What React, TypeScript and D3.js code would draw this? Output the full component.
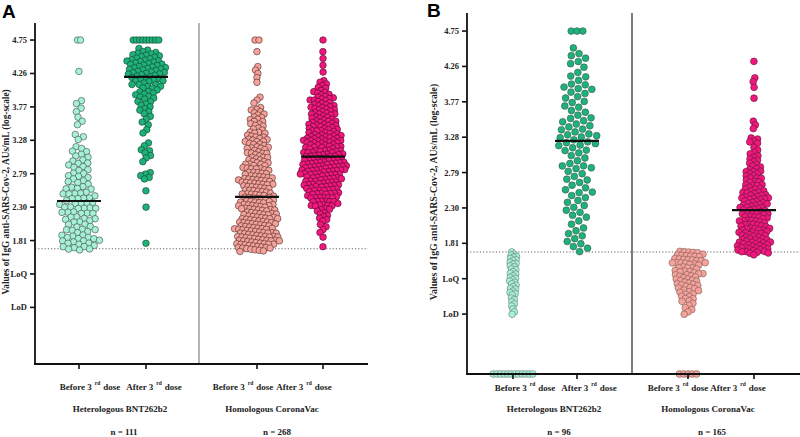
import React from "react";
import * as d3 from "d3";

// ---------- DATA (log10 AU/mL; 0 = below LoD) ----------
const yTickValues = [4.75, 4.26, 3.77, 3.28, 2.79, 2.3, 1.81, 1.32, 0.83];
const yTickLabels = ["4.75", "4.26", "3.77", "3.28", "2.79", "2.30", "1.81", "LoQ", "LoD"];
const categories = ["Before 3", "After 3"];
const groupsNames = ["Heterologous BNT262b2", "Homologous CoronaVac"];
const nLabelsA = ["n = 111", "n = 268"];
const nLabelsB = ["n = 96", "n = 165"];
const cutoff = 1.69;
const capValue = 4.75;

const A_BNT_before = [4.75, 4.75, 4.29, 3.86, 3.82, 3.75, 3.7, 3.62, 3.56, 3.51, 3.36, 3.33, 3.3,
  3.18, 3.15, 3.12, 3.1, 3.07, 3.05, 3.03, 3.0, 2.98, 2.96,
  2.94, 2.92, 2.89, 2.87, 2.85, 2.83, 2.81,
  2.79, 2.77, 2.75, 2.73, 2.71, 2.69, 2.67, 2.65, 2.63, 2.61, 2.59, 2.57, 2.55, 2.54, 2.52, 2.51, 2.5,
  2.49, 2.48, 2.46, 2.45, 2.43, 2.42, 2.41, 2.4,
  2.38, 2.37, 2.35, 2.34, 2.33, 2.31, 2.3, 2.29, 2.28, 2.27, 2.26, 2.25, 2.24, 2.23, 2.22, 2.21, 2.19, 2.18, 2.16, 2.15,
  2.13, 2.12, 2.1, 2.08, 2.07, 2.05, 2.04, 2.02, 2.01, 1.99, 1.98, 1.96, 1.95, 1.93, 1.92, 1.9, 1.89, 1.87, 1.86, 1.84,
  1.83, 1.82, 1.8, 1.79, 1.78, 1.77, 1.76, 1.75, 1.74, 1.73, 1.72, 1.72, 1.71, 1.71, 1.77, 1.81];

const A_BNT_after = [4.75, 4.75, 4.75, 4.75, 4.75, 4.75, 4.75, 4.75, 4.75,
  4.62, 4.6, 4.58, 4.56,
  4.54, 4.53, 4.52, 4.51, 4.5, 4.49, 4.48, 4.47, 4.46, 4.46, 4.45, 4.44, 4.43, 4.42, 4.42, 4.41, 4.4, 4.4,
  4.39, 4.38, 4.38, 4.37, 4.36, 4.35, 4.34, 4.34, 4.33, 4.32, 4.31, 4.3, 4.3, 4.29, 4.28, 4.27, 4.26, 4.26, 4.25, 4.24,
  4.23, 4.22, 4.22, 4.21,
  4.2, 4.19, 4.18, 4.17, 4.16, 4.15, 4.14, 4.13, 4.12, 4.11,
  4.1, 4.08, 4.07, 4.05, 4.04, 4.02, 4.01, 3.99, 3.98, 3.96, 3.95, 3.93, 3.92, 3.9,
  3.88, 3.86, 3.84, 3.81, 3.79, 3.77, 3.75, 3.73, 3.71,
  3.67, 3.63, 3.59, 3.55, 3.5, 3.44, 3.39,
  3.24, 3.2, 3.14, 3.12, 3.1, 3.06, 3.02, 2.97, 2.8, 2.78, 2.76, 2.74, 2.72, 2.54, 2.3, 1.77];

const A_CV_before = [4.75, 4.75, 4.58, 4.36, 4.31, 4.26, 4.2, 4.13, 3.91, 3.87, 3.83,
  3.75, 3.73, 3.72, 3.7, 3.68, 3.66, 3.65, 3.63, 3.61, 3.6, 3.58, 3.56, 3.55, 3.53, 3.51, 3.5, 3.48, 3.46, 3.45, 3.43,
  3.41, 3.4, 3.38, 3.37, 3.35, 3.34, 3.33, 3.32, 3.31, 3.3,
  3.29, 3.28, 3.27, 3.26, 3.25, 3.24, 3.23, 3.21, 3.2, 3.19, 3.18, 3.17, 3.16, 3.15, 3.14, 3.12, 3.11, 3.1, 3.09, 3.08,
  3.07, 3.06, 3.05, 3.04, 3.03, 3.02, 3.01,
  3.0, 2.99, 2.98, 2.97, 2.96, 2.95, 2.94, 2.93, 2.92, 2.91, 2.9, 2.89, 2.88, 2.87, 2.86, 2.85, 2.84, 2.83, 2.82, 2.81,
  2.8, 2.79, 2.78, 2.77, 2.76, 2.75, 2.74, 2.73, 2.73, 2.72, 2.72, 2.71, 2.71,
  2.7, 2.7, 2.69, 2.69, 2.68, 2.67, 2.67, 2.66, 2.65, 2.65, 2.64, 2.63, 2.62, 2.62, 2.61, 2.6, 2.59, 2.59, 2.58, 2.57,
  2.56, 2.56, 2.55, 2.54, 2.53, 2.52, 2.51, 2.5, 2.49, 2.48, 2.47, 2.47, 2.46,
  2.45, 2.44, 2.44, 2.43, 2.42, 2.41, 2.41, 2.4, 2.39, 2.38, 2.38, 2.37, 2.36, 2.35, 2.35, 2.34, 2.33, 2.32, 2.32, 2.31,
  2.3, 2.29, 2.29, 2.28, 2.27, 2.26, 2.26, 2.25, 2.24, 2.23, 2.23, 2.22, 2.21, 2.2, 2.2, 2.19, 2.18, 2.17, 2.17, 2.16,
  2.15, 2.14, 2.14, 2.13, 2.12, 2.12, 2.11, 2.11, 2.1, 2.1, 2.43, 2.37, 2.31, 2.25, 2.19, 2.13,
  2.09, 2.09, 2.08, 2.08, 2.07, 2.06, 2.06, 2.05, 2.04, 2.04, 2.03, 2.02, 2.02, 2.01, 2.0, 2.0, 1.99, 1.98, 1.98, 1.97,
  1.96, 1.96, 1.95, 1.94, 1.94, 1.93, 1.92, 1.92, 1.91, 1.9, 1.9, 1.89, 1.89, 1.88, 1.88, 1.87, 1.87, 1.86, 1.86, 1.85,
  1.85, 1.97, 1.93, 2.05,
  1.84, 1.84, 1.83, 1.83, 1.82, 1.82, 1.81, 1.81, 1.8, 1.8, 1.79, 1.79, 1.78, 1.78, 1.77, 1.77, 1.76, 1.76, 1.75, 1.75,
  1.74, 1.74, 1.73, 1.73, 1.72, 1.72, 1.71, 1.71, 1.7, 1.7, 1.71, 1.73, 1.75, 1.77];

const A_CV_after = [4.75, 4.58, 4.48, 4.38, 4.28,
  4.15, 4.13, 4.1, 4.08, 4.05, 4.03, 4.01,
  3.99, 3.98, 3.96, 3.95, 3.93, 3.92, 3.9, 3.89, 3.87, 3.86, 3.85, 3.84, 3.83, 3.82, 3.81, 3.8,
  3.79, 3.78, 3.77, 3.76, 3.75, 3.74, 3.73, 3.72, 3.71, 3.7, 3.69, 3.68, 3.67, 3.66, 3.65, 3.64, 3.63, 3.62, 3.61, 3.6,
  3.59, 3.58, 3.57, 3.56, 3.55, 3.54, 3.53, 3.52, 3.51, 3.5, 3.78, 3.72, 3.66, 3.6, 3.54,
  3.49, 3.48, 3.48, 3.47, 3.46, 3.45, 3.45, 3.44, 3.43, 3.42, 3.42, 3.41, 3.4, 3.39, 3.39, 3.38, 3.37, 3.36, 3.36, 3.35,
  3.34, 3.33, 3.33, 3.32, 3.31, 3.31, 3.3, 3.3,
  3.29, 3.29, 3.28, 3.28, 3.27, 3.27, 3.26, 3.25, 3.25, 3.24, 3.23, 3.23, 3.22, 3.21, 3.21, 3.2, 3.2, 3.19, 3.18, 3.18,
  3.17, 3.16, 3.16, 3.15, 3.14, 3.14, 3.13, 3.12, 3.12, 3.11, 3.1, 3.1, 3.09, 3.08, 3.08, 3.07, 3.07, 3.06, 3.06, 3.05,
  3.05, 3.04, 3.04,
  3.03, 3.03, 3.02, 3.02, 3.01, 3.01, 3.0, 3.0, 2.99, 2.99, 2.98, 2.98, 2.97, 2.97, 2.96, 2.96, 2.95, 2.95, 2.94, 2.94,
  2.93, 2.93, 2.92, 2.92, 2.91, 2.91, 2.9, 2.9, 2.89, 2.89, 2.88, 2.88, 2.87, 2.87, 2.86, 2.86, 2.85, 2.85, 2.84, 2.84,
  2.83, 2.83, 2.82, 2.82, 2.81, 2.81, 2.8, 2.8, 2.79, 2.79,
  2.78, 2.78, 2.77, 2.76, 2.76, 2.75, 2.74, 2.74, 2.73, 2.72, 2.72, 2.71, 2.7, 2.7, 2.69, 2.68, 2.68, 2.67, 2.66, 2.66,
  2.65, 2.64, 2.64, 2.63, 2.62, 2.62, 2.61, 2.6, 2.6, 2.59, 2.58, 2.58, 2.57, 2.57, 2.56, 2.56, 2.55, 2.55, 2.54, 2.54,
  2.53, 2.52, 2.51, 2.5, 2.49, 2.48, 2.47, 2.46, 2.45, 2.44, 2.43, 2.42, 2.41, 2.4, 2.39, 2.38, 2.37, 2.36, 2.35, 2.34,
  2.33, 2.32, 2.31, 2.3, 2.5, 2.44, 2.38, 2.32,
  2.28, 2.26, 2.24, 2.22, 2.2, 2.18, 2.16, 2.14, 2.12, 2.1,
  2.05, 2.01, 1.97, 1.93, 1.86, 1.72];

const B_BNT_before = [1.68, 1.66, 1.65, 1.63, 1.62, 1.6, 1.58, 1.57, 1.55, 1.53, 1.52, 1.5, 1.48, 1.46, 1.44, 1.42,
  1.4, 1.38, 1.36, 1.34, 1.32, 1.3, 1.29, 1.27, 1.25, 1.23, 1.21, 1.19, 1.17, 1.15, 1.13, 1.11, 1.09, 1.06, 1.03,
  1.0, 0.97, 0.94, 0.9, 0.86, 0.83,
  0, 0, 0, 0, 0, 0, 0, 0, 0, 0, 0, 0];

const B_BNT_after = [4.75, 4.75, 4.75, 4.5, 4.43, 4.42, 4.38, 4.33, 4.3, 4.25, 4.17, 4.12, 4.1, 4.06, 4.03, 4.01,
  3.98, 3.95, 3.93, 3.9, 3.88, 3.86, 3.8, 3.77, 3.75, 3.73, 3.7, 3.66, 3.62, 3.6, 3.55, 3.52, 3.5, 3.48, 3.46, 3.44,
  3.4, 3.37, 3.35, 3.33, 3.31, 3.3, 3.28, 3.27, 3.26, 3.25, 3.24, 3.23,
  3.22, 3.2, 3.17, 3.14, 3.11, 3.08, 3.06, 3.03, 3.0, 2.96, 2.93, 2.9, 2.88, 2.86, 2.84, 2.8, 2.78, 2.75, 2.72, 2.68,
  2.64, 2.62, 2.6, 2.56, 2.53, 2.5, 2.47, 2.44, 2.4, 2.37, 2.33, 2.3, 2.27, 2.25, 2.22, 2.18, 2.12, 2.07, 2.02, 1.98,
  1.94, 1.9, 1.87, 1.83, 1.8, 1.78, 1.75, 1.72];

const B_CV_before = [1.68, 1.67, 1.67, 1.66, 1.66, 1.65, 1.65, 1.64, 1.63, 1.63, 1.62, 1.61, 1.61, 1.6, 1.59, 1.59,
  1.58, 1.57, 1.57, 1.56, 1.55, 1.54, 1.54, 1.53, 1.52, 1.51, 1.5, 1.49, 1.48, 1.47, 1.46, 1.45,
  1.44, 1.43, 1.42, 1.41, 1.4, 1.39, 1.38, 1.37, 1.36, 1.35, 1.34, 1.33, 1.32, 1.31, 1.3, 1.29, 1.28, 1.27, 1.26, 1.25,
  1.24, 1.23, 1.22, 1.21, 1.2, 1.38, 1.3,
  1.19, 1.17, 1.16, 1.14, 1.13, 1.11, 1.1, 1.08, 1.07, 1.05, 1.04, 1.02, 1.01,
  0.98, 0.95, 0.92, 0.89, 0.86, 0.83,
  0, 0, 0, 0, 0];

const B_CV_after = [4.33, 4.1, 4.05, 3.97, 3.82, 3.5, 3.45, 3.4,
  3.26, 3.25, 3.23, 3.22, 3.2, 3.14, 3.1, 3.07, 3.05, 3.02, 3.0,
  2.98, 2.96, 2.94, 2.92, 2.9, 2.88, 2.86, 2.84, 2.83, 2.81, 2.8,
  2.79, 2.78, 2.77, 2.75, 2.74, 2.73, 2.71, 2.7, 2.69, 2.67, 2.66, 2.65, 2.63, 2.62, 2.61, 2.6, 2.58, 2.57, 2.56, 2.55,
  2.54, 2.53, 2.52, 2.51,
  2.5, 2.49, 2.48, 2.48, 2.47, 2.46, 2.45, 2.44, 2.44, 2.43, 2.42, 2.41, 2.4, 2.4, 2.39, 2.38, 2.37, 2.36, 2.36, 2.35,
  2.34, 2.33, 2.32, 2.32, 2.31, 2.3, 2.29, 2.28,
  2.27, 2.26, 2.25, 2.25, 2.24, 2.23, 2.22, 2.21, 2.21, 2.2, 2.19, 2.18, 2.17, 2.17, 2.16, 2.15, 2.14, 2.13, 2.13, 2.12,
  2.11, 2.1, 2.09, 2.09, 2.08, 2.07, 2.06, 2.05, 2.05, 2.04, 2.03, 2.02, 2.01, 2.01, 2.0, 1.99, 1.98, 1.97, 1.97, 1.96,
  1.95, 1.94, 1.93, 1.93, 1.92, 1.91, 1.9, 1.89, 1.89, 1.88, 1.87, 1.86, 1.85, 1.85, 1.84, 1.83, 1.82, 1.81, 1.81, 1.8,
  1.79, 1.78, 1.78, 1.77, 1.76, 1.76, 1.75, 1.74, 1.74, 1.73, 1.72, 1.72, 1.71, 1.71, 1.7, 1.7, 1.69, 1.69, 1.73, 1.75,
  1.77, 1.79, 1.83];

const medianA = [2.39, 4.21, 2.45, 3.04];
const medianB = [null, 3.23, null, 2.27];

// ---------- STYLE ----------
const fills = ["#a6f1d6", "#1eb27a", "#f5a29b", "#f2177f"];
const strokesA = ["#3a4a44", "#14402c", "#4a2a28", "#4a0a26"];
const strokesB = ["#6a7a74", "#3a5a4c", "#7a5a56", "#5a1a36"];
const FONT = "'Liberation Serif', 'Times New Roman', serif";

type Pt = { x: number; y: number };

function layoutGroup(values: number[], y: (v: number) => number, cx: number, rc: number, rowStep: number, xStr: number): Pt[] {
  const rest = values.filter((v) => v > 0 && v < capValue);
  const rowVals = values.filter((v) => v <= 0 || v >= capValue);
  const nodes: any[] = rest.map((v, i) => ({ ty: y(v), x: cx + (((i * 7) % 11) - 5) * 0.6, y: y(v) }));
  const sim = d3.forceSimulation(nodes)
    .force("x", d3.forceX(cx).strength(xStr))
    .force("y", d3.forceY((d: any) => d.ty).strength(0.8))
    .force("c", d3.forceCollide(rc).iterations(3))
    .stop();
  for (let i = 0; i < 300; i++) sim.tick();
  const pts: Pt[] = nodes.map((n) => ({ x: n.x, y: n.y }));
  const rows = d3.group(rowVals, (v) => v);
  const rowPts: Pt[] = [];
  rows.forEach((arr, v) => {
    const k = arr.length;
    arr.forEach((_, j) => rowPts.push({ x: cx + (j - (k - 1) / 2) * rowStep, y: y(v) }));
  });
  return [...rowPts, ...pts.sort((a, b) => a.y - b.y)];
}

type PanelCfg = {
  letter: string; letterX: number; letterY: number;
  axisX: number; axisEnd: number; top: number; bottom: number;
  divider: number; dividerColor: string;
  xs: number[]; labelXs: number[]; groupXs: number[]; nXs: number[]; nLabels: string[];
  data: number[][]; medians: (number | null)[]; coll: number[]; rowSteps: number[]; xStr: number[];
  r: number; strokes: string[];
  yLabelX: number; yLabelSize: number; labY: number;
};

function Panel({ c }: { c: PanelCfg }) {
  const y = d3.scaleLinear().domain([0, 5]).range([c.bottom, c.top]);
  return (
    <g>
      <text x={c.letterX} y={c.letterY} fontFamily="'Liberation Sans', Arial, sans-serif" fontWeight="bold" fontSize={19}>{c.letter}</text>
      <line x1={c.axisX} x2={c.axisEnd} y1={y(cutoff)} y2={y(cutoff)} stroke="#666" strokeWidth={1} strokeDasharray="1.2,2" />
      <line x1={c.divider} x2={c.divider} y1={c.top} y2={c.bottom} stroke={c.dividerColor} strokeWidth={1.1} />
      {c.data.map((vals, gi) => {
        const pts = layoutGroup(vals, y, c.xs[gi], c.coll[gi], c.rowSteps[gi], c.xStr[gi]);
        return (
          <g key={gi}>
            {pts.map((p, i) => (
              <circle key={i} cx={p.x} cy={p.y} r={c.r} fill={fills[gi]} stroke={c.strokes[gi]} strokeWidth={0.6} />
            ))}
          </g>
        );
      })}
      {c.medians.map((m, gi) => m == null ? null : (
        <line key={gi} x1={c.xs[gi] - 22} x2={c.xs[gi] + 22} y1={y(m)} y2={y(m)} stroke="#111" strokeWidth={2.2} />
      ))}
      <line x1={c.axisX} x2={c.axisX} y1={c.top} y2={c.bottom + 1} stroke="#111" strokeWidth={1.8} />
      <line x1={c.axisX - 1} x2={c.axisEnd} y1={c.bottom} y2={c.bottom} stroke="#111" strokeWidth={2} />
      {yTickValues.map((v, i) => (
        <g key={i}>
          <line x1={c.axisX - 5} x2={c.axisX} y1={y(v)} y2={y(v)} stroke="#111" strokeWidth={1.6} />
          <text x={c.axisX - 8} y={y(v) + 3} textAnchor="end" fontFamily={FONT} fontWeight="bold" fontSize={8.5} fill="#222">{yTickLabels[i]}</text>
        </g>
      ))}
      {c.xs.map((x, i) => (
        <line key={i} x1={x} x2={x} y1={c.bottom} y2={c.bottom + 5} stroke="#111" strokeWidth={1.6} />
      ))}
      {c.labelXs.map((x, i) => (
        <text key={i} x={x} y={c.labY} textAnchor="middle" fontFamily={FONT} fontWeight="bold" fontSize={9} fill="#222">
          {categories[i % 2]}
          <tspan dx={3} dy={-5} fontSize={5.5}>rd</tspan>
          <tspan dx={3} dy={5}>dose</tspan>
        </text>
      ))}
      {c.groupXs.map((x, i) => (
        <text key={i} x={x} y={412} textAnchor="middle" fontFamily={FONT} fontWeight="bold" fontSize={9} fill="#222">{groupsNames[i]}</text>
      ))}
      {c.nXs.map((x, i) => (
        <text key={i} x={x} y={435} textAnchor="middle" fontFamily={FONT} fontWeight="bold" fontSize={9} fill="#222">{c.nLabels[i]}</text>
      ))}
      <text transform={`translate(${c.yLabelX},192) rotate(-90)`} textAnchor="middle" fontFamily={FONT} fontWeight="bold" fontSize={c.yLabelSize} fill="#222">
        Values of IgG anti-SARS-Cov-2, AUs/mL (log-scale)
      </text>
    </g>
  );
}

export default function App() {
  const panelA: PanelCfg = {
    letter: "A", letterX: 2, letterY: 18,
    axisX: 35, axisEnd: 368, top: 23, bottom: 364,
    divider: 199, dividerColor: "#777",
    xs: [79, 146, 257, 323], labelXs: [90, 154, 243, 304], groupXs: [120, 272], nXs: [124, 277], nLabels: nLabelsA,
    data: [A_BNT_before, A_BNT_after, A_CV_before, A_CV_after],
    medians: medianA, coll: [2.9, 2.5, 2.1, 2.1], rowSteps: [3, 3.2, 4, 4], xStr: [0.05, 0.05, 0.05, 0.05],
    r: 3.3, strokes: strokesA,
    yLabelX: 9, yLabelSize: 9.3, labY: 390,
  };
  const panelB: PanelCfg = {
    letter: "B", letterX: 427, letterY: 17,
    axisX: 467, axisEnd: 800, top: 13, bottom: 374,
    divider: 632, dividerColor: "#111",
    xs: [513, 577, 688, 754], labelXs: [525, 589, 678, 738], groupXs: [554, 708], nXs: [559, 712], nLabels: nLabelsB,
    data: [B_BNT_before, B_BNT_after, B_CV_before, B_CV_after],
    medians: medianB, coll: [1.6, 4.0, 2.2, 2.1], rowSteps: [3.6, 5.8, 4.3, 4], xStr: [0.15, 0.06, 0.05, 0.05],
    r: 3.4, strokes: strokesB,
    yLabelX: 437, yLabelSize: 9.8, labY: 391,
  };
  return (
    <svg width={800} height={437} style={{ position: "absolute", left: 0, top: 0, background: "#fff" }}>
      <rect width={800} height={437} fill="#fff" />
      <Panel c={panelA} />
      <Panel c={panelB} />
    </svg>
  );
}
